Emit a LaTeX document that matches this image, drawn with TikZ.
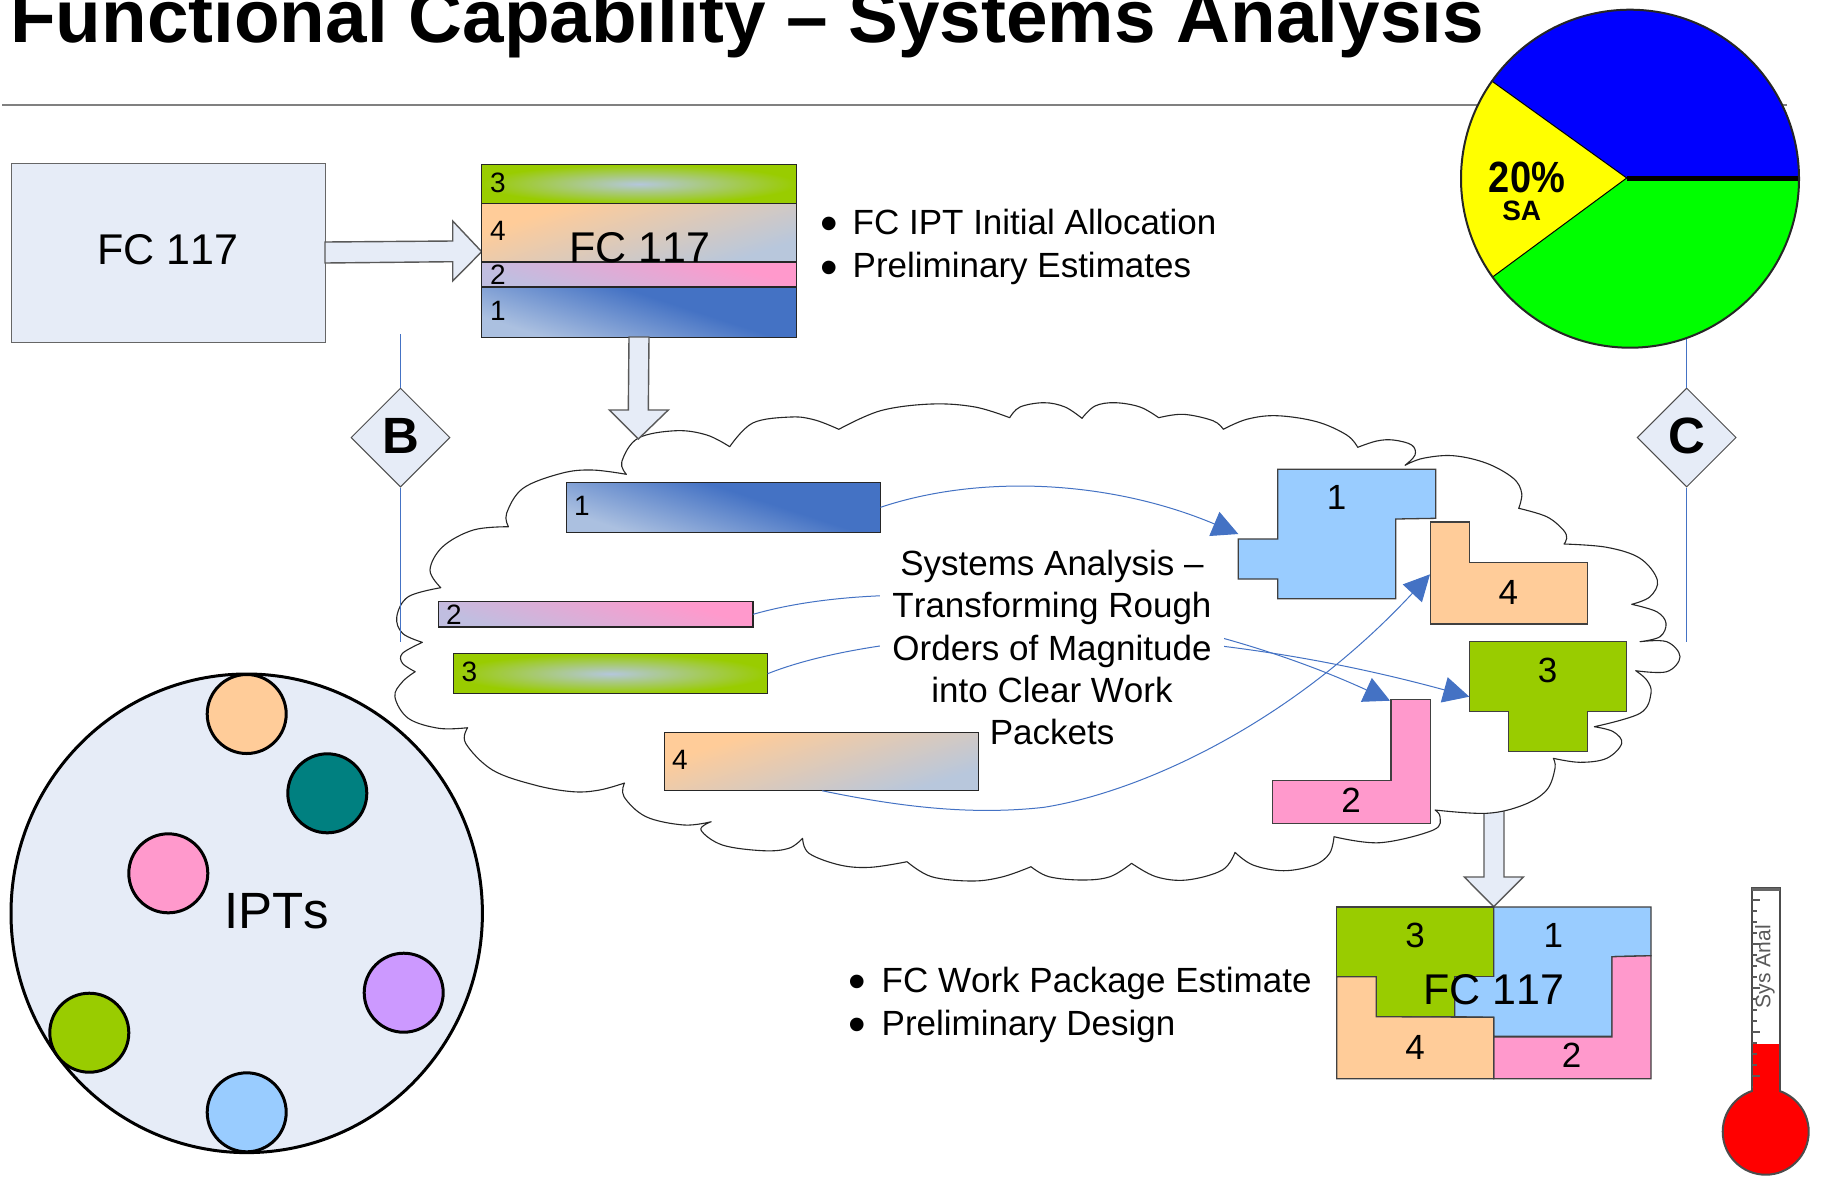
\documentclass[tikz,border=0pt]{standalone}
\usepackage{fontspec}
\setmainfont[Kerning=Off]{Liberation Sans}
\usetikzlibrary{shapes.geometric,arrows.meta}
\newcommand{\fsz}[1]{\fontsize{#1}{#1}\selectfont}
\definecolor{palefill}{HTML}{E6ECF7}
\definecolor{cblue}{HTML}{4472C4}
\definecolor{cpink}{HTML}{FF99CC}
\definecolor{cgreen}{HTML}{99CC00}
\definecolor{corange}{HTML}{FFCC99}
\definecolor{csky}{HTML}{99CCFF}
\definecolor{cteal}{HTML}{008080}
\definecolor{cviolet}{HTML}{CC99FF}
\definecolor{lightblue}{HTML}{ABC0E0}
\definecolor{lightlav}{HTML}{C0BEE0}
\definecolor{lightsteel}{HTML}{B8C7DC}
\definecolor{coreblue}{HTML}{B4C7DC}
\definecolor{rulegray}{HTML}{808080}
\definecolor{pieblue}{HTML}{0000FF}
\definecolor{piegreen}{HTML}{00FF00}
\definecolor{pieyellow}{HTML}{FFFF00}
\definecolor{purered}{HTML}{FF0000}
\pgfdeclarehorizontalshading{blueshade}{100bp}{color(0bp)=(lightblue); color(27bp)=(lightblue); color(58bp)=(cblue); color(100bp)=(cblue)}
\pgfdeclarehorizontalshading{pinkshade}{100bp}{color(0bp)=(lightlav); color(27bp)=(lightlav); color(70bp)=(cpink); color(100bp)=(cpink)}
\pgfdeclarehorizontalshading{orangeshade}{100bp}{color(0bp)=(corange); color(30bp)=(corange); color(73bp)=(lightsteel); color(100bp)=(lightsteel)}
\tikzset{
  barbase/.style={shade,draw=black!85,line width=1.2pt,anchor=north west,inner sep=0pt,outer sep=0pt},
  barblue/.style={barbase,shading=blueshade,shading angle=72},
  barpink/.style={barbase,shading=pinkshade,shading angle=72},
  barorange/.style={barbase,shading=orangeshade,shading angle=-72},
  bargreen/.style={barbase,inner color=coreblue,outer color=cgreen},
  num/.style={font=\fsz{28},inner sep=0pt},
  bignum/.style={font=\fsz{35},inner sep=0pt},
  big/.style={font=\fsz{43},inner sep=0pt},
  bullettext/.style={font=\fsz{35},anchor=base west,inner sep=0pt},
  bulletmark/.style={font=\fsz{50},anchor=base,inner sep=0pt},
  blockarrow/.style={draw=black!65,fill=palefill,line width=1.4pt,line join=miter},
  piece/.style={draw=black!75,line width=1.3pt},
  tag/.style={diamond,draw=black!70,fill=palefill,line width=1pt,minimum width=99pt,minimum height=99pt,inner sep=0pt},
  tagtext/.style={inner sep=0pt,font=\bfseries\fsz{51}},
  tagline/.style={draw=cblue,line width=1pt},
  conn/.style={draw=cblue,line width=1pt},
  connhead/.style={conn,-{Triangle[length=26pt,width=26pt,fill=cblue]}},
  ipt/.style={circle,draw=black,line width=3pt,minimum size=79pt,inner sep=0pt},
  cloudline/.style={draw=black!85,fill=white,line width=1.1pt,line join=round},
  lobe/.style={smooth,tension=0.6},
}
\begin{document}
\begin{tikzpicture}[x=1pt,y=-1pt]
\useasboundingbox (0,0) rectangle (1822,1176);
\fill[white] (0,0) rectangle (1822,1176);
% title and rule
\node[anchor=base west,inner sep=0pt,font=\bfseries\fsz{74.7}] (title) at (10,42.5) {Functional Capability – Systems Analysis};
\draw[rulegray,line width=2.2pt] (2,105) -- (1787,105);
% down arrow from the cloud (lies under the cloud outline)
\draw[blockarrow] (1484,808) -- (1504,808) -- (1504,877) -- (1523.3,877) -- (1493.7,906.7) -- (1464.3,877) -- (1484,877) -- cycle;
% cloud
\draw[cloudline]
 plot[lobe] coordinates {(626.4,474.3)(621.8,461.7)(637.9,438.3)(676,430.7)(706.8,435)(729.7,446.7)}
 -- plot[lobe] coordinates {(729.7,446.7)(752.7,423)(791,417)(815,420)(838.8,429.3)}
 -- plot[lobe] coordinates {(838.8,429.3)(880.6,410.7)(931.6,404)(975,407)(1009.7,417.7)}
 -- plot[lobe] coordinates {(1009.7,417.7)(1020,407)(1044,402.7)(1065,407)(1082,418.3)}
 -- plot[lobe] coordinates {(1082,418.3)(1095,406)(1115,402.7)(1140,407)(1158.7,417.7)}
 -- plot[lobe] coordinates {(1158.7,417.7)(1183.3,414.3)(1213,420.7)(1223.3,429.3)}
 -- plot[lobe] coordinates {(1223.3,429.3)(1246.7,419.3)(1276.7,415.7)(1316.7,421.7)(1346.7,435)(1357.7,447.3)}
 -- plot[lobe] coordinates {(1357.7,447.3)(1376.7,441)(1393.3,440)(1411.7,445)(1415,455)(1405,465.3)}
 -- plot[lobe] coordinates {(1405,465.3)(1423,458.3)(1453.3,455.7)(1486.7,463.3)(1513.3,478.3)(1521.7,493.3)(1518.7,508.3)}
 -- plot[lobe] coordinates {(1518.7,508.3)(1546.7,516.7)(1563.3,530)(1566.7,538.3)(1564,544)}
 -- plot[lobe] coordinates {(1564,544)(1606.7,547.3)(1640,558.3)(1657.3,580)(1650,596.7)(1631.7,604.3)}
 -- plot[lobe] coordinates {(1631.7,604.3)(1656.7,611.7)(1666,623.3)(1660,636.7)(1640,641.7)}
 -- plot[lobe] coordinates {(1640,641.7)(1666.7,641.7)(1680,656.7)(1666.7,671.7)(1635.7,670.7)}
 -- plot[lobe] coordinates {(1635.7,670.7)(1646.7,680)(1651,693.3)(1640,713.3)(1594.3,726.7)}
 -- plot[lobe] coordinates {(1594.3,726.7)(1613.3,731.7)(1621.7,743.3)(1606.7,758.3)(1580,762.3)(1553.3,758.3)}
 -- plot[lobe] coordinates {(1553.3,758.3)(1555,768.3)(1546.7,790)(1523.3,805)(1486.7,813.3)(1435,810)}
 -- plot[lobe] coordinates {(1435,810)(1440,816.7)(1433.3,830)(1380,842.7)(1334,836.7)}
 -- plot[lobe] coordinates {(1334,836.7)(1329.6,853.3)(1314.3,865)(1283.7,870.7)(1253,865)(1235,852.3)}
 -- plot[lobe] coordinates {(1235,852.3)(1222.4,870)(1186.7,880)(1156,876.7)(1131.6,863.3)}
 -- plot[lobe] coordinates {(1131.6,863.3)(1110,876.7)(1082,880)(1049,876.7)(1031,866.7)}
 -- plot[lobe] coordinates {(1031,866.7)(1003,876.7)(972.4,881)(931.6,876.7)(907,861.7)}
 -- plot[lobe] coordinates {(907,861.7)(870.4,867.3)(839.8,865)(809,853.3)(802.6,838.3)}
 -- plot[lobe] coordinates {(802.6,838.3)(788.8,848.3)(763,850.7)(722.4,845)(701,830)(711.2,821.7)}
 -- plot[lobe] coordinates {(711.2,821.7)(684,825)(646,816.7)(624,796.7)(624.5,783)}
 -- plot[lobe] coordinates {(624.5,783)(599.6,790)(572.8,791.7)(534.6,785)(492.5,770)(465.7,743.3)(467.6,727.7)}
 -- plot[lobe] coordinates {(467.6,727.7)(438.9,728.3)(408.3,718.3)(394.9,696.7)(402.5,681.7)(415.2,671.7)}
 -- plot[lobe] coordinates {(415.2,671.7)(402.5,663.3)(402.5,653.3)(422.4,642.3)}
 -- plot[lobe] coordinates {(422.4,642.3)(402.5,633.3)(396.8,616.7)(408.3,596.7)(440.8,587.7)}
 -- plot[lobe] coordinates {(440.8,587.7)(430,570)(442.7,546.7)(473.3,530)(508.5,526.7)}
 -- plot[lobe] coordinates {(508.5,526.7)(506.6,513.3)(523,488.3)(561.4,473.3)(592,470)(626.4,474.3)}
 -- cycle;
% top-left boxes
\node[draw=black!60,fill=palefill,line width=1pt,anchor=north west,minimum width=314pt,minimum height=179pt,inner sep=0pt] (fcbox) at (11,163) {};
\node[big] (fcboxn) at (168,250) {FC 117};
\draw[blockarrow] (325,242) -- (452.7,241) -- (452.7,221) -- (481.7,251.7) -- (452.7,281) -- (452.7,261.7) -- (325,263) -- cycle;
\node[bargreen,minimum width=315pt,minimum height=38.6pt] (s3) at (481.7,164.7) {};
\node[barorange,minimum width=315pt,minimum height=58.7pt] (s4) at (481.7,203.3) {};
\node[barpink,minimum width=315pt,minimum height=25pt] (s2) at (481.7,262) {};
\node[barblue,minimum width=315pt,minimum height=50.3pt] (s1) at (481.7,287) {};
\node[num] (s3n) at (498,183) {3};
\node[num] (s4n) at (498,230.7) {4};
\node[num] (s2n) at (498,275) {2};
\node[num] (s1n) at (498,310.7) {1};
\node[big] (stacklabel) at (640,247.3) {FC 117};
\draw[blockarrow] (629,337) -- (649,337) -- (648.3,410) -- (668.3,410) -- (638.3,439) -- (609.3,410) -- (628.3,410) -- cycle;
% bullets top
\node[bulletmark] (b1) at (829,240) {•};
\node[bulletmark] (b2) at (829,284) {•};
\node[bullettext] (b1t) at (852.5,234.5) {FC IPT Initial Allocation};
\node[bullettext] (b2t) at (852.5,277) {Preliminary Estimates};
% bars in cloud
\node[barblue,minimum width=314.2pt,minimum height=50pt] (bar1) at (566.3,482.3) {};
\node[barpink,minimum width=314.5pt,minimum height=25.3pt] (bar2) at (438.5,601.7) {};
\node[bargreen,minimum width=314.2pt,minimum height=40pt] (bar3) at (453.4,653.7) {};
\node[num] (bar1n) at (582,506) {1};
\node[num] (bar2n) at (454,614.3) {2};
\node[num] (bar3n) at (469.5,671.7) {3};
% pieces
\draw[piece,fill=csky] (1277.7,469.3) -- (1435.7,469.3) -- (1435.7,518.3) -- (1395.7,519) -- (1395.7,598.7) -- (1277.7,598.7) -- (1277.7,579) -- (1238.3,579) -- (1238.3,539) -- (1277.7,539) -- cycle;
\draw[piece,fill=corange] (1430.3,522) -- (1469.3,522) -- (1469.3,562.3) -- (1587.3,562.3) -- (1587.3,624) -- (1430.3,624) -- cycle;
\draw[piece,fill=cgreen] (1469.3,641.7) -- (1626.3,641.7) -- (1626.3,711.7) -- (1587.3,711.7) -- (1587.3,751.7) -- (1508.7,751.7) -- (1508.7,711.7) -- (1469.3,711.7) -- cycle;
\draw[piece,fill=cpink] (1391,699.7) -- (1430.3,699.7) -- (1430.3,823.3) -- (1272.7,823.3) -- (1272.7,780.7) -- (1391,780.7) -- cycle;
\node[bignum] (p1n) at (1336.7,497.5) {1};
\node[bignum] (p4n) at (1508.3,592) {4};
\node[bignum] (p3n) at (1547.7,670) {3};
\node[bignum] (p2n) at (1351,800) {2};
\coordinate (t1) at (1238.3,534);
\coordinate (t2) at (1390,700.7);
\coordinate (t3) at (1469.3,696.7);
\coordinate (t4) at (1430,574.3);
% connectors that run behind the text block
\draw[connhead] (bar2.east) .. controls (900,572) and (1170,600) .. (t2);
\draw[connhead] (bar3.east) .. controls (880,629) and (1150,609.5) .. (t3);
% central text (opaque)
\node[fill=white,inner sep=0pt,minimum width=344pt,minimum height=230pt,align=center,font=\fontsize{35}{42.4}\selectfont] (satext) at (1052,647.5) {Systems Analysis –\\Transforming Rough\\Orders of Magnitude\\into Clear Work\\Packets};
\node[barorange,minimum width=314.3pt,minimum height=58pt] (bar4) at (664.3,732.3) {};
\node[num] (bar4n) at (680,760) {4};
\coordinate (bar4out) at (822,790.7);
\coordinate (mid4) at (1044,807.3);
\draw[connhead] (bar1.east) .. controls (980,474) and (1110,480) .. (t1);
\draw[connhead] (bar4out) .. controls (905,808) and (975,815) .. (mid4) .. controls (1140,792) and (1290,725) .. (t4);
% tags
\node[tag] (tagB) at (400.5,437.5) {};
\node[tagtext] (tagBn) at (400.5,435.5) {B};
\node[tag] (tagC) at (1686.7,437.5) {};
\node[tagtext] (tagCn) at (1686.7,435.5) {C};
\coordinate (bTop) at (400.5,334);
\coordinate (bEnd) at (400.5,641.7);
\coordinate (cTop) at (1686.7,335);
\coordinate (cEnd) at (1686.7,641.7);
\draw[tagline] (bTop) -- (tagB.north);
\draw[tagline] (tagB.south) -- (bEnd);
\draw[tagline] (cTop) -- (tagC.north);
\draw[tagline] (tagC.south) -- (cEnd);
% pie
\begin{scope}
\clip (1630,178.7) circle[radius=169pt];
\fill[pieblue] (1450,0) rectangle (1810,178);
\fill[piegreen] (1450,178) rectangle (1810,360);
\fill[pieyellow] (1626.7,178) -- (1437,41.7) -- (1437,318) -- cycle;
\draw[black,line width=1pt] (1437,41.7) -- (1626.7,178) -- (1437,318);
\draw[black,line width=5pt] (1626.7,178) -- (1810,178);
\end{scope}
\draw[black!85,line width=2pt] (1630,178.7) circle[radius=169pt];
\node[inner sep=0pt,font=\bfseries\fsz{38}] (pct) at (1527,177) {\scalebox{1}[1.15]{20\%}};
\node[inner sep=0pt,font=\bfseries\fsz{28}] (pctsa) at (1521.7,210.7) {SA};
% IPT circle
\node[ellipse,draw=black,line width=3pt,fill=palefill,minimum width=471.4pt,minimum height=478.6pt,inner sep=0pt] (iptc) at (246.7,913.3) {};
\node[inner sep=0pt,font=\fsz{51}] (ipttext) at (276.7,911) {IPTs};
\node[ipt,fill=corange] (i1) at (246.7,714) {};
\node[ipt,fill=cteal] (i2) at (327.3,793.3) {};
\node[ipt,fill=cpink] (i3) at (168.3,873.3) {};
\node[ipt,fill=cviolet] (i4) at (403.7,992.7) {};
\node[ipt,fill=cgreen] (i5) at (89.3,1032.7) {};
\node[ipt,fill=csky] (i6) at (246.7,1112.3) {};
% bottom bullets
\node[bulletmark] (b3) at (857.5,998) {•};
\node[bulletmark] (b4) at (857.5,1041) {•};
\node[bullettext] (b3t) at (881.5,992) {FC Work Package Estimate};
\node[bullettext] (b4t) at (881.5,1035) {Preliminary Design};
% assembled work package
\draw[piece,fill=csky] (1493.7,907) -- (1651,907) -- (1651,955.7) -- (1612,956.7) -- (1612,1036.3) -- (1493.7,1036.3) -- (1493.7,1017.3) -- (1454.7,1016.7) -- (1454.7,976.3) -- (1493.7,976.3) -- cycle;
\draw[piece,fill=cpink] (1612,956.7) -- (1651,955.7) -- (1651,1078.7) -- (1493.7,1078.7) -- (1493.7,1037) -- (1612,1037) -- cycle;
\draw[piece,fill=cgreen] (1336.7,907) -- (1493.7,907) -- (1493.7,976.3) -- (1454.7,976.3) -- (1454.7,1016.7) -- (1376.3,1016.7) -- (1376.3,976.7) -- (1336.7,976.7) -- cycle;
\draw[piece,fill=corange] (1336.7,976.7) -- (1376.3,976.7) -- (1376.3,1016.7) -- (1493.7,1017.3) -- (1493.7,1078.7) -- (1336.7,1078.7) -- cycle;
\node[bignum] (w3) at (1415,935.7) {3};
\node[bignum] (w1) at (1553.3,935) {1};
\node[bignum] (w4) at (1415,1047.3) {4};
\node[bignum] (w2) at (1571.7,1055) {2};
\node[big] (wlabel) at (1494,990) {FC 117};
% thermometer
\draw[black!70,line width=2pt,fill=white] (1751.7,888.3) rectangle (1780.3,1095);
\draw[black!60,line width=3pt] (1751.7,889) -- (1780.3,889);
\fill[purered] (1751.7,1044) rectangle (1780.3,1100);
\draw[black!70,line width=2pt] (1751.7,1044) -- (1751.7,1095) (1780.3,1044) -- (1780.3,1095);
\foreach \yy in {900,911,...,1087} {\draw[black!65,line width=1.2pt] (1752,\yy) -- (1757,\yy);}
\foreach \yy in {900,944,...,1087} {\draw[black!65,line width=1.2pt] (1752,\yy) -- (1760,\yy);}
\draw[black!70,line width=2pt,fill=purered] (1765.7,1131.7) circle[radius=43pt];
\fill[purered] (1752.7,1080) rectangle (1779.3,1100);
\node[rotate=90,inner sep=0pt,text=black!65,font=\fsz{21}] (thermo) at (1765,966.7) {Sys Anal};
\end{tikzpicture}
\end{document}
